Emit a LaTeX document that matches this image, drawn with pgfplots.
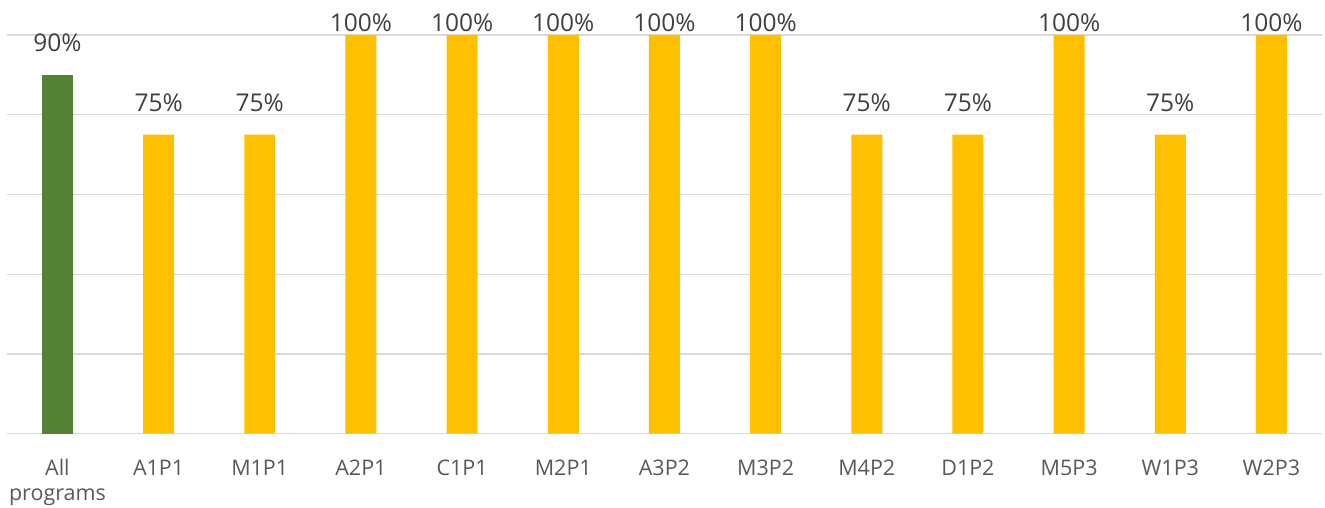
\documentclass[border=0pt]{standalone}
\usepackage{fontspec}
\setmainfont{Open Sans}
\usepackage{pgfplots}
\pgfplotsset{compat=1.18}
\definecolor{barGreen}{HTML}{548235}
\definecolor{barGold}{HTML}{FFC000}
\definecolor{gridGray}{HTML}{D9D9D9}
\definecolor{labelGray}{HTML}{404040}
\definecolor{tickGray}{HTML}{595959}

\pgfplotsset{
  value label/.style={
    nodes near coords={\pgfmathprintnumber[assume math mode=true]{\pgfplotspointmeta}\%},
    nodes near coords style={anchor=base, yshift=#1, text=labelGray,
      font=\fontsize{24.5bp}{28bp}\selectfont, inner sep=0pt},
  },
}

\begin{document}
\begin{tikzpicture}
\begin{axis}[
  name=main,
  scale only axis,
  width=1316bp, height=399bp,
  xmin=-0.5, xmax=12.5,
  ymin=0, ymax=100,
  ybar=0pt,
  bar width=31bp,
  clip=false,
  axis line style={draw=none},
  ytick={0,20,...,100},
  yticklabels={},
  ymajorgrids,
  grid style={gridGray, line width=1.4bp},
  major tick length=0pt,
  xtick={0,...,12},
  xticklabels={{All\\programs},A1P1,M1P1,A2P1,C1P1,M2P1,A3P2,M3P2,M4P2,D1P2,M5P3,W1P3,W2P3},
  xticklabel style={align=center, text=tickGray,
    font=\fontsize{21.5bp}{25bp}\selectfont, anchor=north, inner sep=0pt, yshift=-24bp},
  typeset ticklabels with strut=false,
]
\addplot[fill=barGreen, draw=none, bar shift=0pt, value label=23bp]
  coordinates {(0,90)};
\addplot[fill=barGold, draw=none, bar shift=0pt, value label=23bp]
  coordinates {(1,75) (2,75) (8,75) (9,75) (11,75)};
% full bars: their labels sit just above the top gridline
\addplot[fill=barGold, draw=none, bar shift=0pt, value label=3bp]
  coordinates {(3,100) (4,100) (5,100) (6,100) (7,100) (10,100) (12,100)};
\end{axis}
% page extent around the plot area
\path (main.south west) ++(-6bp,-74bp) (main.north east) ++(3bp,35bp);
\end{tikzpicture}
\end{document}
